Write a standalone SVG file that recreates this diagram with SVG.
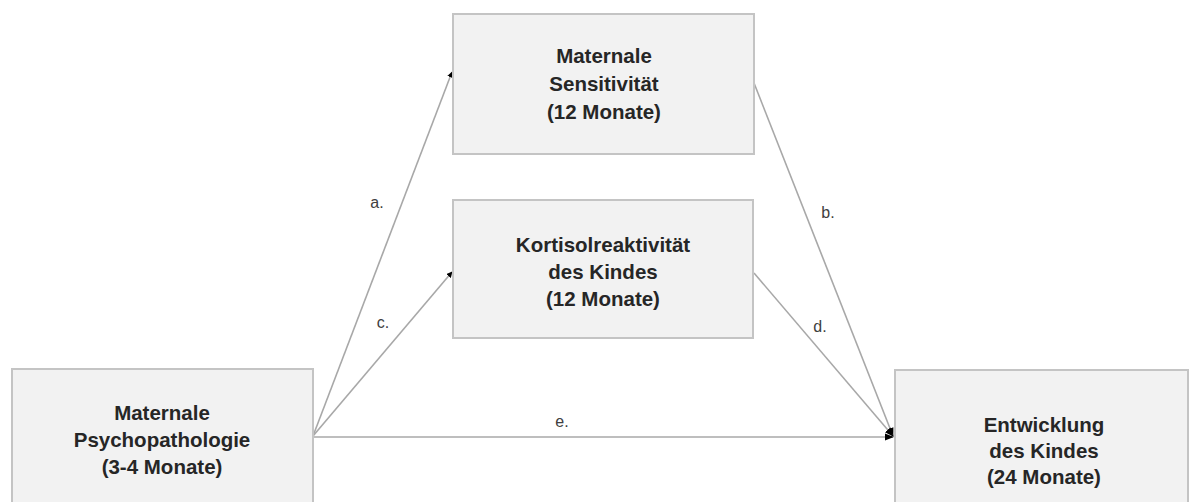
<svg xmlns="http://www.w3.org/2000/svg" width="1191" height="502" viewBox="0 0 1191 502">
<style>
.box{fill:#f2f2f2;stroke:#c4c4c4;stroke-width:2}
.t{font-family:"Liberation Sans",Arial,sans-serif;font-weight:bold;font-size:20.5px;fill:#262626;text-anchor:middle}
.lbl{font-family:"Liberation Sans",Arial,sans-serif;font-size:16px;fill:#404040;text-anchor:middle}
.ln{stroke:#a8a8a8;stroke-width:1.6;fill:none}
</style>
<defs>
<marker id="ah" viewBox="0 0 10 10" refX="9" refY="5" markerWidth="6" markerHeight="6" markerUnits="userSpaceOnUse" orient="auto">
<path d="M0,0 L10,5 L0,10 z" fill="#000"/>
</marker>
<marker id="ah2" viewBox="0 0 10 10" refX="9" refY="5" markerWidth="9" markerHeight="9" markerUnits="userSpaceOnUse" orient="auto">
<path d="M0,1 L10,5 L0,9 z" fill="#000"/>
</marker>
</defs>
<rect width="1191" height="502" fill="#fff"/>
<g id="connectors">
<line class="ln" x1="313" y1="436" x2="452" y2="72" marker-end="url(#ah)"/>
<line class="ln" x1="313" y1="436" x2="452" y2="272" marker-end="url(#ah)"/>
<line class="ln" x1="754" y1="83" x2="893" y2="436" marker-end="url(#ah2)"/>
<line class="ln" x1="754" y1="273" x2="893" y2="436" marker-end="url(#ah2)"/>
<line class="ln" x1="313" y1="437" x2="893" y2="437" stroke-width="2" stroke="#999" marker-end="url(#ah2)"/>
<text class="lbl" x="377" y="208">a.</text>
<text class="lbl" x="828" y="218">b.</text>
<text class="lbl" x="383" y="328">c.</text>
<text class="lbl" x="820" y="332">d.</text>
<text class="lbl" x="562" y="427">e.</text>
</g>
<g id="sensitivitaet">
<rect class="box" x="453" y="14" width="301" height="140"/>
<text class="t" x="604" y="63">Maternale</text>
<text class="t" x="604" y="91">Sensitivität</text>
<text class="t" x="604" y="119">(12 Monate)</text>
</g>
<g id="kortisol">
<rect class="box" x="453" y="200" width="300" height="138"/>
<text class="t" x="603" y="252">Kortisolreaktivität</text>
<text class="t" x="603" y="279">des Kindes</text>
<text class="t" x="603" y="306">(12 Monate)</text>
</g>
<g id="psychopathologie">
<rect class="box" x="12" y="369" width="301" height="140"/>
<text class="t" x="162" y="420">Maternale</text>
<text class="t" x="162" y="447">Psychopathologie</text>
<text class="t" x="162" y="474">(3-4 Monate)</text>
</g>
<g id="entwicklung">
<rect class="box" x="895" y="370" width="293" height="140"/>
<text class="t" x="1044" y="432">Entwicklung</text>
<text class="t" x="1044" y="458">des Kindes</text>
<text class="t" x="1044" y="484">(24 Monate)</text>
</g>
</svg>
